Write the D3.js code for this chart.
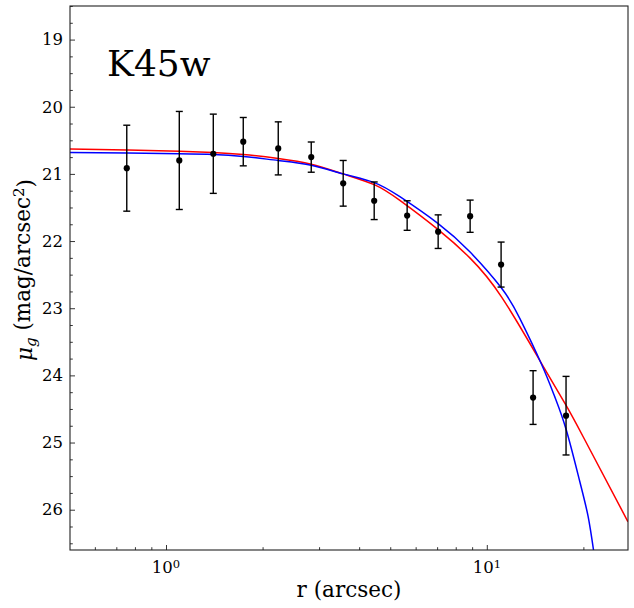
<!DOCTYPE html>
<html>
<head>
<meta charset="utf-8">
<script src="https://cdn.jsdelivr.net/npm/d3@7"></script>
<style>
  body { margin: 0; background: #fff; }
  svg { display: block; font-family: "DejaVu Serif", serif; }
</style>
</head>
<body>
<svg id="chart" width="634" height="608"></svg>
<script>
// measured profile (radius in arcsec, surface brightness, 1-sigma error)
const rData  = [0.7545, 1.100, 1.404, 1.741, 2.238, 2.836, 3.567, 4.456, 5.645, 7.052, 8.872, 11.08, 13.94, 17.66];
const muData = [20.915, 20.80, 20.70, 20.52, 20.62, 20.75, 21.14, 21.40, 21.62, 21.86, 21.63, 22.35, 24.33, 24.60];
const muErr  = [0.64, 0.73, 0.59, 0.36, 0.395, 0.225, 0.34, 0.28, 0.22, 0.25, 0.24, 0.335, 0.40, 0.585];

// fitted models
const redR   = [0.502, 0.7545, 1.100, 1.404, 1.741, 2.238, 2.836, 3.567, 4.456, 5.358, 7.052, 8.853, 11.11, 14.80, 17.63, 19.95, 27.55];
const redMu  = [20.63, 20.643, 20.662, 20.68, 20.71, 20.77, 20.855, 21.00, 21.16, 21.395, 21.83, 22.25, 22.83, 23.82, 24.44, 24.91, 26.18];
const blueR  = [0.502, 0.7545, 1.100, 1.404, 1.741, 2.238, 2.836, 3.567, 4.456, 5.358, 7.052, 8.853, 11.11, 12.67, 14.80, 16.29, 17.71, 19.49, 20.69, 21.54];
const blueMu = [20.68, 20.69, 20.70, 20.71, 20.74, 20.80, 20.87, 21.00, 21.13, 21.34, 21.74, 22.16, 22.70, 23.15, 23.83, 24.32, 24.82, 25.58, 26.10, 26.62];

const xMajor = [1, 10];
const xMinor = [0.6, 0.7, 0.8, 0.9, 2, 3, 4, 5, 6, 7, 8, 9, 20];
const yMajor = [19, 20, 21, 22, 23, 24, 25, 26];

const plotL = 70, plotR = 628, plotT = 6, plotB = 550;

const svg = d3.select("#chart");

const x = d3.scaleLog().domain([0.502, 27.55]).range([plotL, plotR]);
const y = d3.scaleLinear().domain([18.5, 26.6]).range([plotT, plotB]);

const yMinor = d3.range(18.5, 26.6, 0.25).filter(v => !yMajor.includes(v));

svg.append("defs").append("clipPath").attr("id", "plot")
    .append("rect").attr("x", plotL).attr("y", plotT)
    .attr("width", plotR - plotL).attr("height", plotB - plotT);

// curves
const line = (rs, mus) => d3.line()
    .x((d, i) => x(rs[i]))
    .y((d, i) => y(mus[i]))
    .curve(d3.curveNatural)(rs);

const curves = svg.append("g").attr("clip-path", "url(#plot)");
curves.append("path").attr("d", line(redR, redMu))
    .attr("fill", "none").attr("stroke", "#ff0000").attr("stroke-width", 1.5);
curves.append("path").attr("d", line(blueR, blueMu))
    .attr("fill", "none").attr("stroke", "#0000ff").attr("stroke-width", 1.5);

// error bars + points
const pts = svg.append("g").attr("stroke", "#000").attr("stroke-width", 1.4);
rData.forEach(function(r, i) {
    const cx = x(r);
    const y1 = y(muData[i] - muErr[i]);
    const y2 = y(muData[i] + muErr[i]);
    pts.append("line").attr("x1", cx).attr("x2", cx).attr("y1", y1).attr("y2", y2);
    pts.append("line").attr("x1", cx - 3.5).attr("x2", cx + 3.5).attr("y1", y1).attr("y2", y1);
    pts.append("line").attr("x1", cx - 3.5).attr("x2", cx + 3.5).attr("y1", y2).attr("y2", y2);
    pts.append("circle").attr("cx", cx).attr("cy", y(muData[i])).attr("r", 3.1)
        .attr("fill", "#000").attr("stroke", "none");
});

// axes, ticks pointing inside
const gy = svg.append("g").attr("transform", `translate(${plotL},0)`);
gy.call(d3.axisLeft(y).tickValues(yMajor).tickSize(-5).tickPadding(7).tickFormat(d3.format("d")));
gy.append("g").call(d3.axisLeft(y).tickValues(yMinor).tickSize(-2.8).tickFormat(""));

const gx = svg.append("g").attr("transform", `translate(0,${plotB})`);
gx.call(d3.axisBottom(x).tickValues(xMajor).tickSize(-5).tickFormat(""));
gx.append("g").call(d3.axisBottom(x).tickValues(xMinor).tickSize(-2.8).tickFormat(""));

svg.selectAll(".domain").remove();
svg.selectAll(".tick line").attr("stroke", "#000").attr("stroke-width", 0.8);
gy.selectAll(".tick text").attr("font-size", 16.5).attr("fill", "#000")
    .attr("font-family", "DejaVu Serif");

xMajor.forEach(function(v) {
    const t = svg.append("text").attr("x", x(v)).attr("y", 573)
        .attr("text-anchor", "middle").attr("font-size", 16.5).attr("fill", "#000");
    t.append("tspan").text("10");
    t.append("tspan").attr("dy", "-0.45em").attr("font-size", 11.5).text(Math.log10(v));
});

svg.append("rect").attr("x", plotL).attr("y", plotT)
    .attr("width", plotR - plotL).attr("height", plotB - plotT)
    .attr("fill", "none").attr("stroke", "#222").attr("stroke-width", 1.1);

// labels
svg.append("text").attr("x", (plotL + plotR) / 2).attr("y", 597)
    .attr("text-anchor", "middle").attr("font-size", 21.5).text("r (arcsec)");

const yl = svg.append("text").attr("transform", "translate(32,270) rotate(-90)")
    .attr("text-anchor", "middle").attr("font-size", 21.5);
yl.append("tspan").attr("font-style", "italic").text("μ");
yl.append("tspan").attr("font-style", "italic").attr("font-size", 15).attr("dy", "0.25em").text("g");
yl.append("tspan").attr("dy", "-0.25em").text(" (mag/arcsec");
yl.append("tspan").attr("font-size", 15).attr("dy", "-0.45em").text("2");
yl.append("tspan").attr("dy", "0.45em").text(")");

svg.append("text").attr("x", 107).attr("y", 76).attr("font-size", 36).text("K45w");
</script>
</body>
</html>
